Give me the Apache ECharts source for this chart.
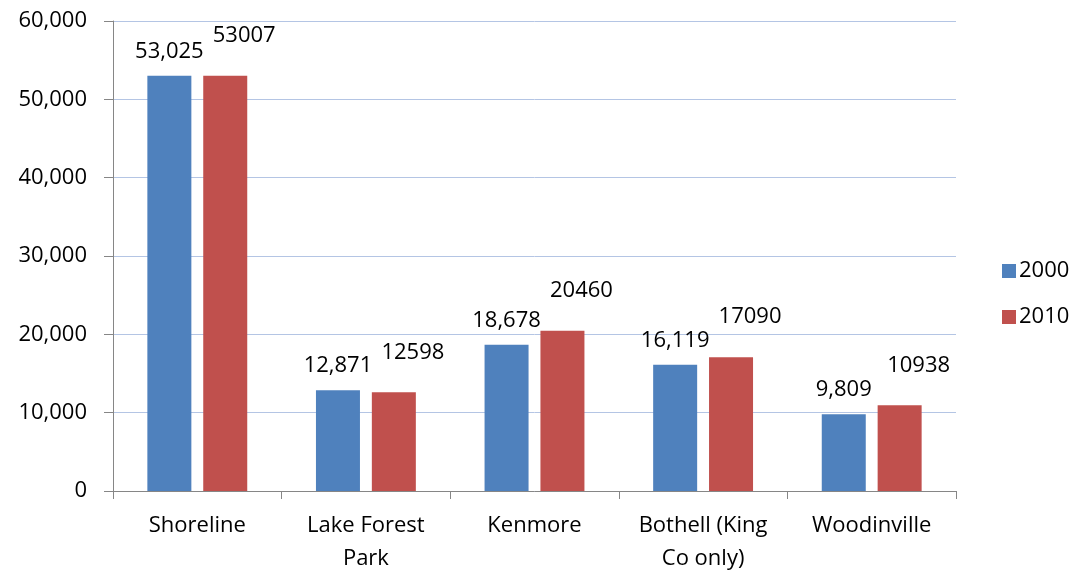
<!DOCTYPE html>
<html>
<head>
<meta charset="utf-8">
<script src="https://cdn.jsdelivr.net/npm/echarts@6/dist/echarts.min.js"></script>
<style>
  html, body { margin: 0; padding: 0; background: #fff; }
  #chart { width: 1076px; height: 572px; }
</style>
</head>
<body>
<div id="chart"></div>
<script>
var cities = ["Shoreline", "Lake Forest\nPark", "Kenmore", "Bothell (King\nCo only)", "Woodinville"];
var pop2000 = [53025, 12871, 18678, 16119, 9809];
var pop2010 = [53007, 12598, 20460, 17090, 10938];
var yTicks = [0, 10000, 20000, 30000, 40000, 50000, 60000];

var chartDom = document.getElementById("chart");
var chart = echarts.init(chartDom);
var font = "'Open Sans', sans-serif";

function withCommas(v) {
  return String(v).replace(/\B(?=(\d{3})+(?!\d))/g, ",");
}

var option = {
  animation: false,
  textStyle: { fontFamily: font, color: "#000" },
  grid: { left: 113, right: 120, top: 21, bottom: 81, outerBoundsMode: "none", containLabel: false },
  legend: {
    orient: "vertical",
    left: 997,
    top: 255,
    itemWidth: 14,
    itemHeight: 14,
    itemGap: 24,
    icon: "rect",
    textStyle: { fontFamily: font, fontSize: 22, color: "#000", padding: [0, 0, 0, -2] },
    data: ["2000", "2010"]
  },
  xAxis: {
    type: "category",
    data: cities,
    axisLine: { lineStyle: { color: "#868686", width: 1 } },
    axisTick: { show: true, length: 8, alignWithLabel: false, lineStyle: { color: "#868686" } },
    axisLabel: { fontFamily: font, fontSize: 22, color: "#000", margin: 18, lineHeight: 33, interval: 0 }
  },
  yAxis: {
    type: "value",
    min: yTicks[0],
    max: yTicks[yTicks.length - 1],
    interval: yTicks[1] - yTicks[0],
    axisLine: { show: true, lineStyle: { color: "#868686", width: 1 } },
    axisTick: { show: true, length: 9, lineStyle: { color: "#868686" } },
    splitLine: { lineStyle: { color: "#B4C5E4", width: 1 } },
    axisLabel: { fontFamily: font, fontSize: 22, color: "#000", margin: 26, formatter: withCommas }
  },
  series: [
    {
      name: "2000",
      type: "bar",
      data: pop2000,
      barWidth: 44,
      barGap: "27%",
      itemStyle: { color: "#4F81BD" },
      label: {
        show: true,
        position: "top",
        distance: 13,
        fontFamily: font,
        fontSize: 22,
        color: "#000",
        formatter: function (p) { return withCommas(p.value); }
      }
    },
    {
      name: "2010",
      type: "bar",
      data: pop2010,
      barWidth: 44,
      itemStyle: { color: "#C0504D" },
      label: {
        show: true,
        position: "top",
        distance: 16,
        offset: [19, -13],
        fontFamily: font,
        fontSize: 22,
        color: "#000"
      }
    }
  ]
};

chart.setOption(option);
</script>
</body>
</html>
